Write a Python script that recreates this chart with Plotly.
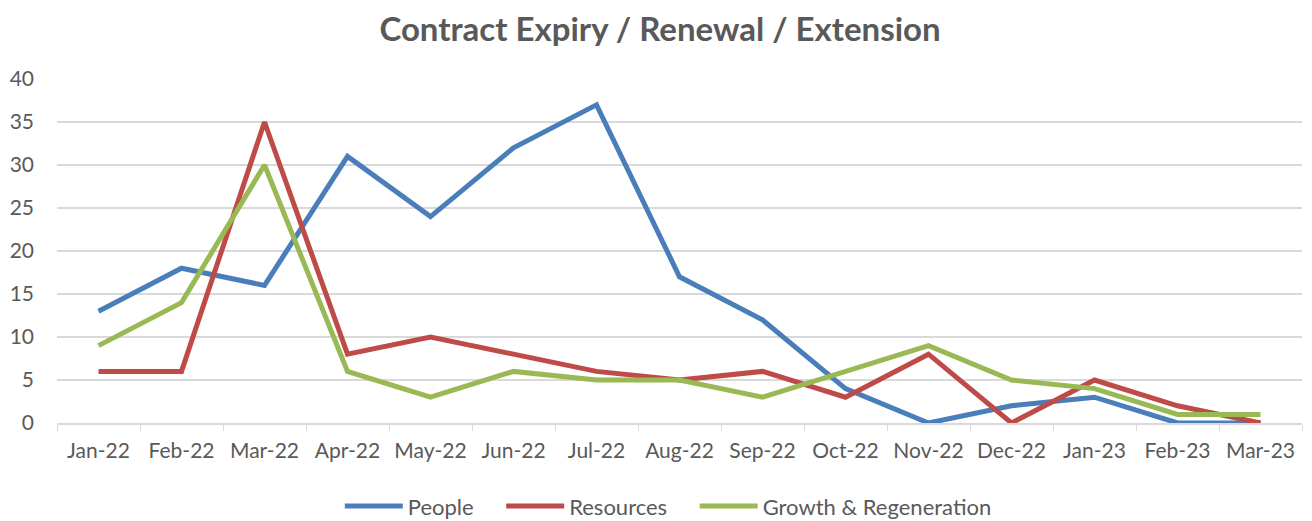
import plotly.graph_objects as go

months = ["Jan-22", "Feb-22", "Mar-22", "Apr-22", "May-22", "Jun-22", "Jul-22", "Aug-22",
          "Sep-22", "Oct-22", "Nov-22", "Dec-22", "Jan-23", "Feb-23", "Mar-23"]
people = [13, 18, 16, 31, 24, 32, 37, 17, 12, 4, 0, 2, 3, 0, 0]
resources = [6, 6, 35, 8, 10, 8, 6, 5, 6, 3, 8, 0, 5, 2, 0]
growth = [9, 14, 30, 6, 3, 6, 5, 5, 3, 6, 9, 5, 4, 1, 1]

series_names = ["People", "Resources", "Growth & Regeneration"]
series_values = [people, resources, growth]
series_colors = ["#4A7EBB", "#BE4B48", "#98B954"]

pad = "\u00a0" * 4
fig = go.Figure()
for i, (name, vals, col) in enumerate(zip(series_names, series_values, series_colors)):
    label = name + (pad if i < len(series_names) - 1 else "")
    fig.add_trace(go.Scatter(x=months, y=vals, name=label, mode="lines",
                             line=dict(color=col, width=5)))

font_fam = "Lato, Open Sans, sans-serif"
fig.update_layout(
    width=1304, height=513,
    paper_bgcolor="white", plot_bgcolor="white",
    margin=dict(l=49, r=10, t=71, b=98, autoexpand=False),
    title=dict(text="<b>Contract Expiry / Renewal / Extension</b>", x=0.5, xanchor="center",
               yref="container", y=0.959, yanchor="middle",
               font=dict(family=font_fam, size=33, color="#595959")),
    font=dict(family=font_fam, size=21, color="#595959"),
    legend=dict(orientation="h", x=0.491, xanchor="center", yref="container", y=0.029,
                yanchor="middle", font=dict(size=22, color="#595959"), traceorder="normal",
                itemwidth=58),
    showlegend=True,
)
fig.update_xaxes(type="category", range=[-0.5, 14.5], showgrid=False,
                 showline=True, linecolor="#D9D9D9", linewidth=1.5,
                 ticks="outside", tickson="boundaries", ticklen=6, tickcolor="#D9D9D9",
                 tickangle=0, automargin=False, ticklabelstandoff=8,
                 tickfont=dict(size=21, color="#595959"))
fig.update_yaxes(range=[0, 40], dtick=5, showgrid=True, gridcolor="#D9D9D9", gridwidth=1.5,
                 zeroline=False, showline=False, ticks="", ticklabelstandoff=22,
                 automargin=False, tickfont=dict(size=21, color="#595959"))

fig.write_html("out.html")
